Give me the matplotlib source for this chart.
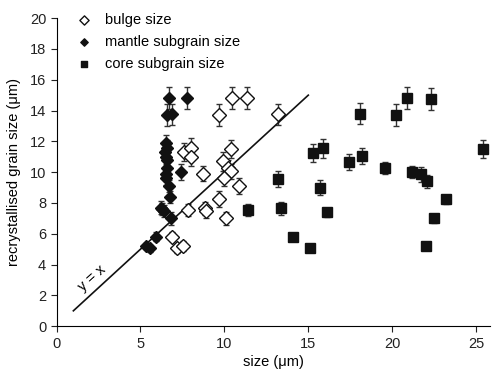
import numpy as np
import matplotlib
matplotlib.use('Agg')
import matplotlib.pyplot as plt

# bulge size (open diamonds)
bulge_x = [6.9, 7.15, 7.55, 7.85, 8.85, 8.9, 9.7, 10.1, 7.6, 8.0, 8.0, 8.7,
           10.4, 9.65, 10.45, 11.35, 13.2, 9.9, 10.2, 10.4, 10.0, 10.9]
bulge_y = [5.8, 5.05, 5.2, 7.55, 7.65, 7.45, 8.25, 7.0, 11.3, 11.6, 11.0, 9.9,
           11.5, 13.7, 14.8, 14.8, 13.75, 10.7, 10.3, 10.05, 9.6, 9.1]
bulge_err = [0.3, 0.3, 0.3, 0.4, 0.4, 0.4, 0.5, 0.4, 0.6, 0.6, 0.6, 0.5,
             0.6, 0.7, 0.7, 0.7, 0.7, 0.6, 0.5, 0.5, 0.5, 0.5]

# mantle subgrain size (filled diamonds)
mantle_x = [6.7, 7.8, 6.6, 6.9, 6.5, 6.6, 6.45, 6.55, 6.6, 6.6, 6.55, 6.5,
            6.7, 6.75, 7.4, 6.3, 6.4, 6.2, 6.8, 5.95, 5.35, 5.55]
mantle_y = [14.8, 14.8, 13.7, 13.75, 11.9, 11.6, 11.3, 11.0, 10.8, 10.3, 9.9, 9.6,
            9.1, 8.4, 10.0, 7.6, 7.5, 7.7, 7.0, 5.8, 5.2, 5.05]
mantle_err = [0.7, 0.7, 0.7, 0.7, 0.5, 0.5, 0.5, 0.5, 0.5, 0.5, 0.5, 0.4,
              0.4, 0.4, 0.5, 0.4, 0.4, 0.4, 0.4, 0.3, 0.2, 0.2]

# core subgrain size (filled squares)
core_x = [13.2, 13.4, 11.4, 14.1, 15.1, 15.3, 15.9, 15.7, 16.1, 18.1, 20.2, 20.9,
          22.3, 25.4, 17.4, 18.2, 19.55, 21.2, 21.7, 22.1, 23.2, 22.5, 22.0]
core_y = [9.55, 7.65, 7.55, 5.8, 5.05, 11.25, 11.55, 9.0, 7.4, 13.8, 13.7, 14.8,
          14.75, 11.5, 10.65, 11.05, 10.25, 10.0, 9.85, 9.4, 8.25, 7.0, 5.2]
core_err = [0.5, 0.4, 0.4, 0.05, 0.05, 0.6, 0.6, 0.5, 0.3, 0.7, 0.7, 0.7,
            0.7, 0.6, 0.5, 0.5, 0.4, 0.4, 0.5, 0.4, 0.3, 0.3, 0.05]

line_x = [1, 15]

plt.rcParams['font.family'] = ['Liberation Sans', 'DejaVu Sans']
plt.rcParams['font.size'] = 10.5

fig = plt.figure(figsize=(4.92, 3.78), dpi=100)
ax = fig.add_axes([0.115, 0.137, 0.88, 0.815])

ebkw = dict(ecolor='#333333', elinewidth=1.0, capsize=2.5, capthick=1.0, linestyle='none')
ax.errorbar(bulge_x, bulge_y, yerr=bulge_err, fmt='D', mfc='white', mec='#111111',
            mew=1.0, ms=7, **ebkw)
ax.errorbar(mantle_x, mantle_y, yerr=mantle_err, fmt='D', mfc='#111111', mec='#111111',
            ms=6, **ebkw)
ax.errorbar(core_x, core_y, yerr=core_err, fmt='s', mfc='#111111', mec='#111111',
            ms=7, **ebkw)

ax.plot(line_x, line_x, color='#111111', lw=1.2)
ax.text(2.1, 3.1, 'y = x', rotation=42, ha='center', va='center')

# legend
hb = ax.scatter([], [], marker='D', facecolor='white', edgecolor='#111111', s=22)
hm = ax.scatter([], [], marker='D', color='#111111', s=14)
hc = ax.scatter([], [], marker='s', color='#111111', s=24)
ax.legend([hb, hm, hc], ['bulge size', 'mantle subgrain size', 'core subgrain size'],
          loc='upper left', bbox_to_anchor=(0.0, 1.06), frameon=False,
          handletextpad=0.4, labelspacing=0.55)

ax.set_xlim(0, 25.8)
ax.set_ylim(0, 20)
ax.set_xticks([0, 5, 10, 15, 20, 25])
ax.set_yticks(np.arange(0, 21, 2))
ax.spines['top'].set_visible(False)
ax.spines['right'].set_visible(False)
ax.tick_params(direction='out', length=4, width=0.8, colors='#222222')
ax.set_xlabel('size (μm)', labelpad=3)
ax.set_ylabel('recrystallised grain size (μm)', labelpad=6)

fig.savefig('out.png', dpi=100)
